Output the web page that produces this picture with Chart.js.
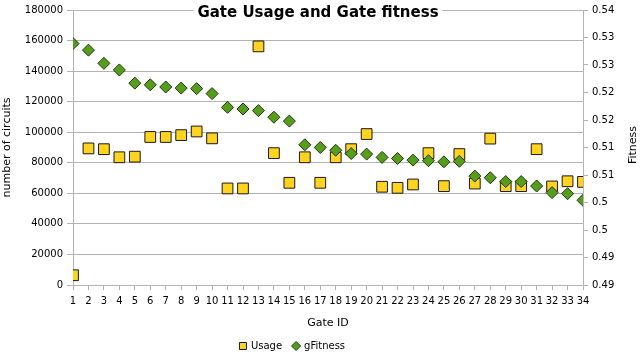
<!DOCTYPE html>
<html><head><meta charset="utf-8">
<script src="https://cdn.jsdelivr.net/npm/chart.js@4/dist/chart.umd.min.js"></script>
<style>html,body{margin:0;padding:0;background:#fff;}#wrap{width:640px;height:354px;}</style>
</head><body><div id="wrap"><canvas id="c" width="640" height="354"></canvas></div>
<script>
const chartTitle = "Gate Usage and Gate fitness";
const gateIds = [1,2,3,4,5,6,7,8,9,10,11,12,13,14,15,16,17,18,19,20,21,22,23,24,25,26,27,28,29,30,31,32,33,34];
const usage = [6400,89400,88900,83600,84000,96900,96900,98100,100500,96000,63200,63200,156200,86300,66900,83600,66900,83600,88900,98800,64300,63600,65800,86300,64700,85700,66400,95800,64700,64700,88900,64500,67900,67500];
const gFitness = [0.5339,0.5327,0.5303,0.5291,0.5267,0.5264,0.5260,0.5258,0.5257,0.5248,0.5223,0.5220,0.5217,0.5205,0.5198,0.5155,0.5150,0.5145,0.5139,0.5138,0.5132,0.5130,0.5127,0.5126,0.5124,0.5125,0.5098,0.5095,0.5088,0.5088,0.5080,0.5068,0.5066,0.5054];
const seriesNames = ["Usage", "gFitness"];
const xTitle = "Gate ID", yTitle = "number of circuits", y2Title = "Fitness";

const FONT = "'DejaVu Sans', sans-serif";
const GRID = '#b3b3b3';

const titlePlugin = {
  id: 'titleOverlay',
  afterDraw(chart) {
    const ctx = chart.ctx;
    ctx.save();
    ctx.font = "bold 15px " + FONT;
    const w = ctx.measureText(chartTitle).width;
    const cx = 318, cy = 13;
    ctx.fillStyle = '#fff';
    ctx.fillRect(cx - w/2 - 4, 0, w + 8, 24);
    ctx.fillStyle = '#000';
    ctx.textAlign = 'center';
    ctx.textBaseline = 'middle';
    ctx.fillText(chartTitle, cx, cy);
    ctx.font = "11px " + FONT;
    ctx.translate(633, 145);
    ctx.rotate(-Math.PI/2);
    ctx.fillText(y2Title, 0, 0);
    ctx.restore();
  }
};

const legendPlugin = {
  id: 'bottomLegend',
  afterDraw(chart) {
    const ctx = chart.ctx;
    ctx.save();
    ctx.font = "10px " + FONT;
    ctx.textBaseline = 'middle';
    ctx.textAlign = 'left';
    const items = chart.data.datasets.map(ds => ({ds, w: ctx.measureText(ds.label).width}));
    const mark = 8, gap = 4, sep = 10;
    let total = 0;
    items.forEach((it, i) => { total += mark + gap + it.w + (i < items.length - 1 ? sep : 0); });
    let x = 292 - total/2;
    const y = 346;
    items.forEach(it => {
      ctx.fillStyle = it.ds.backgroundColor;
      ctx.strokeStyle = it.ds.borderColor;
      ctx.lineWidth = 1;
      ctx.beginPath();
      if (it.ds.pointStyle === 'rect') { ctx.rect(x + 0.5, y - 3.5, 7, 7); }
      else { ctx.moveTo(x + 4, y - 4.5); ctx.lineTo(x + 8.5, y); ctx.lineTo(x + 4, y + 4.5); ctx.lineTo(x - 0.5, y); ctx.closePath(); }
      ctx.fill(); ctx.stroke();
      ctx.fillStyle = '#000';
      ctx.fillText(it.ds.label, x + mark + gap, y);
      x += mark + gap + it.w + sep;
    });
    ctx.restore();
  }
};

new Chart(document.getElementById('c'), {
  type: 'scatter',
  data: {
    datasets: [
      { label: seriesNames[0], data: gateIds.map((g, i) => ({x: g, y: usage[i]})), yAxisID: 'y',
        pointStyle: 'rect', pointRadius: 7.6, pointHoverRadius: 7.6, backgroundColor: '#ffd320', borderColor: '#1a1a1a', borderWidth: 1, order: 1 },
      { label: seriesNames[1], data: gateIds.map((g, i) => ({x: g, y: gFitness[i]})), yAxisID: 'y1',
        pointStyle: 'rectRot', pointRadius: 6, pointHoverRadius: 6, backgroundColor: '#579d1c', borderColor: '#1e3a0a', borderWidth: 1, order: 0 }
    ]
  },
  options: {
    responsive: false,
    animation: false,
    devicePixelRatio: 1,
    layout: { padding: { top: 5, left: 0, right: 0, bottom: 0 } },
    plugins: { legend: { display: false }, title: { display: false }, tooltip: { enabled: false } },
    scales: {
      x: {
        type: 'linear', min: 1, max: 34,
        afterFit: s => { s.height = 69; },
        afterBuildTicks: s => { s.ticks = gateIds.map(v => ({value: v})); },
        ticks: { color: '#000', font: { family: FONT, size: 10 }, padding: 5, maxRotation: 0, autoSkip: false, callback: v => String(v) },
        grid: { drawOnChartArea: false, drawTicks: true, tickLength: 5, color: GRID },
        border: { color: GRID },
        title: { display: true, text: xTitle, color: '#000', font: { family: FONT, size: 11 }, padding: { top: 0, bottom: 24 } }
      },
      y: {
        position: 'left', min: 0, max: 180000,
        afterFit: s => { s.width = 73; },
        ticks: { stepSize: 20000, color: '#000', font: { family: FONT, size: 10 }, padding: 4, callback: v => String(v) },
        grid: { color: GRID, tickLength: 6 },
        border: { color: GRID },
        title: { display: true, text: yTitle, color: '#000', font: { family: FONT, size: 11 }, padding: { top: 1, bottom: 0 } }
      },
      y1: {
        position: 'right', min: 0.49, max: 0.54,
        afterFit: s => { s.width = 57; },
        afterBuildTicks: s => { const t = []; for (let k = 0; k <= 10; k++) t.push({value: 0.49 + k * 0.005}); s.ticks = t; },
        ticks: { color: '#000', font: { family: FONT, size: 10 }, padding: 4,
                 callback: v => String(Math.floor(v * 100 + 1e-6) / 100) },
        grid: { drawOnChartArea: false, color: GRID, tickLength: 5 },
        border: { color: GRID }
      }
    }
  },
  plugins: [titlePlugin, legendPlugin]
});
</script></body></html>
